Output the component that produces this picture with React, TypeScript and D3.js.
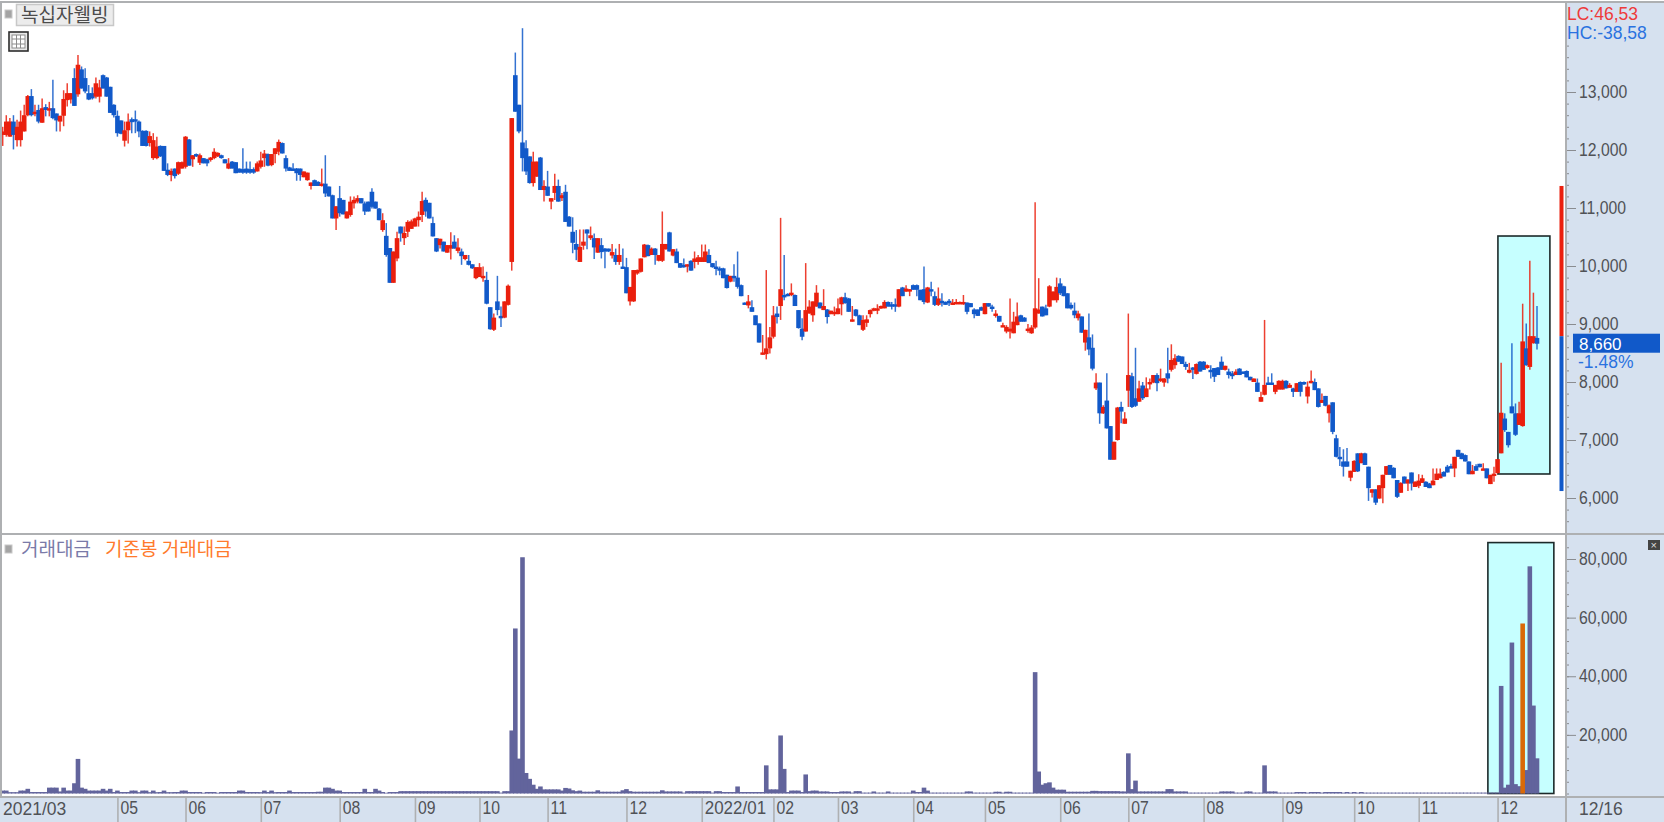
import React, { useEffect, useRef } from 'react';
import * as d3 from 'd3';

// rows are [open, high, low, close, trading value]
const candles2021a: number[][] = [
  [12260,12400,12070,12320,1000],[12260,12600,12230,12490,1000],[12230,12550,12230,12490,450],[12490,12600,12010,12260,450],
  [12170,12520,12060,12400,450],[12170,12680,12060,12490,1000],[12320,12780,12320,12600,1000],[12600,12950,12580,12930,1600],
  [12930,13050,12580,12600,500],[12630,12780,12580,12660,500],[12690,12780,12460,12490,500],[12470,12890,12470,12720,500],
  [12740,12790,12580,12690,500],[12690,12830,12580,12720,2000],[12720,13210,12530,12550,2000],[12630,12630,12320,12510,2000],
  [12490,12590,12320,12590,700],[12590,13030,12410,12880,2000],[12860,13150,12750,12980,1000],[12870,12980,12800,12980,1000],
  [13240,13410,12760,12760,3500],[12960,13640,12920,13470,11800],[13390,13440,13060,13060,2000],[13240,13410,12980,13010,1600],
  [12980,13120,12860,12870,1000],[12980,13080,12870,12890,1000],[12920,13250,12890,13150,1000],[12920,13210,12820,13080,1000],
  [13290,13300,13060,13060,1600],[13250,13260,12920,12920,1000],[13090,13090,12640,12640,1600],[12780,12790,12560,12600,500],
  [12590,12680,12230,12290,1000],[12510,12510,12270,12280,500],[12160,12490,12060,12340,500],[12340,12630,12110,12490,500],
  [12530,12560,12290,12480,1000],[12530,12680,12290,12490,1000],[12490,12510,12220,12320,450],[12330,12340,12070,12070,1000],
  [12330,12340,12060,12070,1000],[12120,12320,12060,12240,450],[11860,12290,11830,12170,1000],[11860,12230,11840,12060,450],
  [12070,12080,11880,11890,500],[12070,12070,11640,11640,1000],[11660,11770,11550,11570,450],[11570,11680,11460,11640,450],
  [11680,11680,11510,11550,500],[11590,11800,11570,11790,500],[11680,11800,11680,11790,1000],[11710,12240,11680,12230,1000],
  [12180,12190,11730,11730,500],[11840,11910,11710,11910,500],[11930,11940,11880,11890,500],[11780,11940,11740,11910,500],
  [11860,11860,11770,11770,250],[11840,11850,11720,11770,500],[11830,11880,11800,11870,500],[11860,12030,11840,11970,500],
  [11890,11960,11880,11950,250],[11910,11920,11850,11860,500],[11840,11840,11770,11770,500],[11680,11860,11670,11770,500],
  [11800,11810,11680,11680,500],[11790,11790,11600,11600,500],[11680,11680,11610,11610,1000],[11670,12030,11590,11610,1000],
  [11680,11800,11590,11610,500],[11670,11800,11590,11610,500],[11670,11700,11590,11610,500],[11630,11800,11630,11770,500],
  [11710,11970,11680,11820,450],[11860,12000,11710,11940,1000],[11930,11940,11720,11730,500],[11740,11930,11720,11930,1000],
  [11930,12030,11770,12030,450],[11970,12180,11910,12140,500],[12120,12130,11940,11940,500],[11860,11910,11630,11680,500],
  [11700,11710,11640,11640,1000],[11680,11770,11640,11660,500],[11680,11690,11470,11600,500],[11680,11680,11470,11570,500],
  [11530,11630,11530,11630,500],[11480,11610,11470,11610,500],[11380,11440,11320,11440,500],[11480,11490,11380,11380,500],
  [11450,11460,11380,11380,600],[11410,11680,11370,11420,600],[11420,11910,11190,11250,2000],[11370,11370,11200,11200,2000],
  [11220,11230,10820,10820,1600],[10820,11030,10620,11030,1000],[11170,11380,10850,10910,1000],[11140,11140,10890,10890,500],
  [10820,10940,10820,10940,500],[10880,11200,10850,11110,500],[11080,11200,10990,11140,500],[11110,11220,11080,11170,500],
  [11170,11170,11080,11080,500],[11080,11110,10880,10940,1600],[11110,11110,10940,10940,500],[11280,11340,10990,11020,500],
  [11110,11110,10990,10990,1600],[10990,11000,10790,10790,1000],[10620,10910,10590,10790,500],[10520,10740,10160,10190,250],
  [10310,10310,9710,9710,500],[9710,10250,9710,10250,500],[10130,10590,10080,10480,500],[10680,10680,10420,10560,800],
  [10480,10680,10360,10570,800],[10590,10790,10500,10760,800],[10640,10800,10640,10770,800],[10680,10830,10680,10820,800],
  [10790,10940,10680,10850,800],
];

const candles2021b: number[][] = [
  [10880,11280,10760,11120,800],[11140,11180,10850,10940,800],[11090,11090,10820,10820,800],[10740,10850,10510,10510,800],
  [10480,10480,10240,10250,800],[10360,10470,10300,10470,800],[10420,10420,10250,10250,800],[10230,10360,10230,10360,800],
  [10300,10580,10110,10360,800],[10420,10530,10300,10300,800],[10260,10480,10220,10320,800],[10250,10300,10020,10170,800],
  [10120,10190,10100,10190,800],[10090,10190,10010,10020,800],[10030,10030,9950,9960,800],[9790,9980,9770,9980,800],
  [9810,10050,9810,9980,800],[9790,9990,9730,9830,800],[9760,9900,9340,9350,800],[9290,9290,8900,8910,800],
  [8900,9180,8880,9110,800],[9390,9830,9150,9240,800],[9140,9300,8950,9130,300],[9110,9390,9100,9390,800],
  [9330,9680,9320,9660,800],[10070,12550,9920,12550,21500],[13290,13680,12660,12660,56300],[12780,12780,12290,12320,11900],
  [12130,14100,11630,11860,80600],[12030,12170,11570,11630,7000],[11890,11890,11420,11430,5000],[11430,11970,11370,11800,3000],
  [11540,11800,11540,11800,1600],[11870,11880,11310,11310,2400],[11310,11480,11110,11380,1400],[11370,11640,11210,11210,1400],
  [11110,11170,10980,11170,1400],[11260,11590,11140,11380,1400],[11380,11490,11110,11110,1400],[11170,11260,11120,11220,1000],
  [11280,11400,10760,10760,1900],[10850,10860,10680,10680,1700],[10590,10840,10220,10400,1100],[10380,10620,10100,10280,800],
  [10070,10630,10070,10330,1000],[10350,10630,10280,10420,600],[10630,10630,10290,10560,600],[10480,10680,10450,10530,600],
  [10480,10560,10120,10320,600],[10230,10480,10230,10480,1100],[10360,10480,10130,10240,600],[10300,10310,9960,10250,600],
  [10300,10300,10240,10250,600],[10180,10380,10130,10240,600],[10190,10300,10020,10070,600],[10070,10380,10020,10190,600],
  [9990,10300,9950,9960,1100],[9980,10140,9530,9530,1500],[9390,9640,9320,9640,800],[9390,9930,9380,9930,600],
  [9870,9940,9850,9930,600],[9900,10130,9890,10130,600],[10150,10380,10150,10370,600],[10360,10370,10170,10170,600],
  [10190,10320,10190,10300,600],[10300,10310,10020,10190,600],[10090,10190,10080,10190,600],[10090,10940,10070,10380,1100],
  [10290,10380,10280,10380,700],[10580,10590,10250,10250,700],[10180,10290,10170,10290,700],[10250,10300,10050,10050,700],
  [10050,10050,9970,9970,700],[10020,10130,9970,9980,300],[10020,10030,9890,10030,800],[10090,10100,9920,9920,800],
  [10070,10250,9960,10130,800],[10070,10190,10020,10150,800],[10070,10370,10070,10150,800],[10070,10370,10070,10250,800],
  [10190,10290,10050,10050,800],[10050,10050,9970,9980,300],[9990,10090,9840,9960,800],[9960,9990,9840,9940,800],
  [9960,9970,9790,9790,500],[9850,9850,9610,9620,500],[9730,9830,9720,9830,500],[9830,10030,9730,9800,500],
  [9800,10250,9610,9640,2400],[9670,9680,9480,9480,500],
  [9370,9370,9340,9350,500],[9320,9500,9270,9390,500],[9290,9410,9210,9210,500],[9150,9150,8980,8980,500],
  [9010,9010,8680,8680,500],[8480,8810,8470,8510,500],[8480,9930,8390,8580,9600],[8580,8950,8490,8770,1400],
  [8780,9310,8750,9150,1400],[9180,9300,9010,9120,1400],[9310,10830,9070,9600,19800],[9500,10190,9410,9470,8400],
  [9520,9530,9480,9480,500],[9520,9700,9480,9540,1000],[9500,9510,9310,9310,1000],[9240,9240,8920,8930,1000],
  [8920,9100,8720,8780,500],[8870,10050,8870,9240,6500],[9180,9410,9180,9300,800],[9150,9390,9040,9390,1000],
  [9300,9670,9300,9540,1000],[9370,9370,9270,9270,700],[9240,9600,9240,9310,700],[9250,9260,9010,9120,700],
  [9170,9230,9170,9230,500],[9170,9300,9140,9210,500],[9170,9440,9170,9270,500],
];

const candles2022a: number[][] = [
  [9340,9470,9150,9460,700],[9460,9540,9350,9360,700],[9440,9450,9210,9210,700],[9040,9310,9040,9080,300],
  [9250,9260,9130,9140,800],[9150,9160,8980,8980,800],[8900,9150,8880,9070,300],
  [9020,9150,8950,9080,300],[9170,9250,9110,9240,300],[9230,9280,9220,9270,700],[9230,9340,9170,9270,300],
  [9270,9320,9260,9310,300],[9270,9410,9270,9380,300],[9380,9390,9300,9300,700],[9340,9380,9250,9310,300],
  [9340,9440,9210,9310,300],[9300,9600,9290,9600,300],[9630,9640,9480,9480,300],[9560,9670,9550,9610,300],
  [9560,9600,9480,9600,300],[9670,9680,9590,9590,1000],[9670,9680,9480,9590,500],[9590,9590,9410,9410,500],
  [9600,9990,9340,9380,2000],[9370,9640,9360,9630,1000],[9600,9730,9480,9560,300],[9480,9560,9310,9330,300],
  [9330,9630,9310,9440,300],[9400,9530,9300,9370,300],[9380,9390,9330,9330,300],[9400,9430,9310,9370,300],
  [9330,9430,9330,9370,300],[9340,9430,9340,9380,300],[9340,9390,9340,9380,300],[9360,9500,9330,9380,300],
  [9370,9370,9170,9210,700],[9360,9360,9290,9290,700],[9250,9270,9100,9170,300],[9250,9250,9140,9140,300],
  [9290,9300,9230,9230,300],[9170,9360,9170,9360,300],[9360,9360,9300,9300,300],[9300,9330,9210,9290,300],
  [9140,9240,9110,9180,600],[9140,9140,9040,9040,600],[8950,9020,8950,8980,300],[8870,8980,8840,8950,600],
  [8870,9440,8750,8920,600],[8840,9210,8840,9040,300],[8980,9370,8980,9130,300],[9150,9160,9040,9040,300],
  [9110,9120,9040,9040,300],[8880,9000,8850,8920,300],[8840,8980,8830,8940,300],[8940,11100,8920,9270,41400],
  [9180,9790,9180,9250,7500],[9300,9300,9130,9130,3000],[9270,9330,9150,9150,3500],[9300,9670,9290,9650,3800],
  [9410,9560,9410,9560,2000],[9410,9800,9370,9640,1300],[9700,9790,9500,9530,1300],[9650,9660,9480,9480,1300],
  [9530,9530,9270,9270,600],[9330,9370,9250,9270,600],[9230,9370,9100,9150,600],[9100,9230,9060,9180,600],
  [9130,9130,8850,8850,600],[8680,8900,8540,8900,600],[8770,9180,8460,8560,600],[8590,8820,8200,8230,900],
  [7890,8150,7860,7990,900],[7990,7990,7280,7460,800],[7460,7600,7450,7570,800],[7680,8150,7200,7200,800],
  [7240,7240,6660,6660,800],[6660,6970,6660,6970,800],[7000,7570,6990,7560,800],[7570,7660,7290,7490,700],
  [7280,7480,7280,7370,700],[7850,9180,7570,8120,13700],[8100,8160,7550,7570,1500],[7720,8590,7570,7590,4400],
  [7660,8020,7660,7890,700],[7940,8000,7690,7720,700],[7740,8080,7740,7890,700],[7980,8060,7870,8000,700],
  [7990,8120,7980,8120,700],[8120,8150,7840,7980,700],[8020,8230,8000,8060,700],[7990,8070,7920,8060,700],
  [8150,8590,7980,8060,1500],[8210,8650,8180,8380,1500],[8290,8480,8230,8410,700],[8450,8460,8350,8350,700],
  [8440,8440,8310,8310,700],[8310,8350,8210,8260,700],[8160,8330,8150,8210,300],[8250,8260,8050,8230,300],
  [8140,8320,8130,8310,300],[8350,8360,8180,8180,300],[8350,8360,8210,8210,300],[8240,8300,8230,8290,300],
  [8210,8290,8060,8190,300],[8240,8240,8000,8090,300],[8250,8260,8120,8120,300],[8350,8440,8210,8210,700],
  [8210,8280,8200,8280,700],[8180,8230,8060,8120,700],[8150,8190,8050,8100,700],[8120,8220,8120,8180,300],
  [8230,8240,8120,8120,300],[8180,8180,8150,8150,300],[8190,8200,8080,8080,700],[8090,8090,8030,8030,700],
  [8000,8060,8000,8060,300],[7990,8060,7830,7830,300],[7660,7830,7660,7740,300],
];

const candles2022b: number[][] = [
  [7780,9070,7770,7950,9600],[7990,8090,7950,7960,700],[7990,8150,7950,7960,700],[7830,7950,7790,7950,700],
  [7870,8030,7870,8020,300],[7870,8040,7870,8020,300],[8020,8030,7890,7890,300],[7900,7980,7900,7950,300],
  [7890,7900,7740,7830,300],[7830,7980,7830,7980,500],[8000,8010,7750,7830,500],
  [8000,8010,7950,7980,500],[7750,8010,7630,7920,300],[7980,8200,7980,8020,500],[8000,8060,7860,7860,500],
  [7890,7890,7560,7570,500],[7640,7800,7640,7690,300],[7760,7760,7580,7590,500],[7460,7610,7300,7600,500],
  [7650,7650,7100,7140,500],[7030,7090,6700,6710,500],[6710,6880,6550,6700,500],[6630,6840,6370,6540,300],
  [6630,6860,6540,6540,500],[6350,6470,6290,6470,300],[6450,6650,6450,6640,500],[6770,6770,6450,6460,300],
  [6600,6780,6600,6770,500],[6770,6780,6570,6570,300],[6540,6540,5950,6170,300],[6090,6150,6010,6150,300],
  [6150,6150,5880,5920,300],[5990,6220,5990,6220,300],[6170,6400,5910,6400,300],[6400,6550,6400,6550,300],
  [6570,6570,6400,6400,300],[6520,6530,6340,6340,300],[6310,6310,6000,6020,300],[6090,6270,6090,6260,300],
  [6370,6370,6250,6250,300],[6250,6320,6120,6320,300],[6440,6440,6130,6250,300],
  [6190,6290,6190,6280,300],[6210,6410,6170,6300,300],[6260,6400,6260,6340,300],[6280,6290,6190,6190,300],
  [6250,6260,6170,6170,300],[6220,6510,6220,6300,300],[6310,6510,6310,6420,300],[6340,6510,6340,6420,300],
  [6450,6460,6370,6370,300],[6540,6570,6440,6440,300],[6550,6590,6510,6510,300],[6510,6710,6360,6710,300],
  [6830,6830,6710,6710,300],[6770,6780,6670,6670,300],[6740,6750,6630,6630,300],[6630,6630,6410,6410,300],
  [6410,6570,6410,6470,300],[6550,6580,6470,6470,300],[6590,6590,6530,6530,300],[6480,6600,6480,6510,300],
  [6510,6510,6340,6340,300],[6240,6400,6240,6400,300],[6400,6540,6280,6420,300],[6430,6670,6420,6670,300],
  [6770,8330,6770,7470,36700],[7370,7460,7140,7170,2000],[7140,7140,6870,6910,3000],[7580,8670,7460,7460,51500],
  [7460,7630,7070,7090,3200],[7260,7660,7260,7460,2500],[7240,9350,7230,8700,2500],[8580,9010,8280,8290,8000],
  [8260,10090,8210,8790,77500],[8670,9540,8660,8790,30000],[8760,9310,8560,8660,12000],
];

const candles = [...candles2021a, ...candles2021b, ...candles2022a, ...candles2022b];

// months on the time axis, index = first candle of the month
const monthStarts = [32, 51, 72, 94, 115, 133, 152, 174, 195, 215, 233, 254, 274, 295, 314, 335, 357, 377, 395, 417];
const monthLabels = ['05', '06', '07', '08', '09', '10', '11', '12', '2022/01', '02', '03', '04', '05', '06', '07', '08', '09', '10', '11', '12'];

const priceLabels = [6000, 7000, 8000, 9000, 10000, 11000, 12000, 13000];
const valueLabels = [20000, 40000, 60000, 80000];

// 기준봉 (the reference candle), counted from the last candle
const baseCandleValues = [[candles.length - 5, 58000]];
// [first index, last index, top value, bottom value] of the highlighted windows
const priceWindow = [417.1, 431.6, 10517, 6414];
const valueWindow = [414.3, 432.7, 85600, 0];

const lcRange = [11380, 8790, 6120];
const lastPrice = 8660;

const RED = '#ea1f0d';
const BLUE = '#1159c9';
const PURPLE = '#62649c';
const GRAY = '#aeb0b2';
const PANEL = '#d6e1ef';
const NUM_FONT = '"Liberation Sans", Arial, sans-serif';
const KR_FONT = '"Noto Sans CJK KR", sans-serif';

export default function App() {
  const ref = useRef<SVGSVGElement>(null);

  useEffect(() => {
    const svg = d3.select(ref.current);
    svg.selectAll('*').remove();

    const x = d3.scaleLinear().domain([0, candles.length - 1]).range([2.7, 1537]);
    const yPrice = d3.scaleLinear().domain([6000, 13000]).range([498, 92]);
    const yValue = d3.scaleLinear().domain([0, 80000]).range([793.5, 559]);

    // background panels
    svg.append('rect').attr('width', 1664).attr('height', 822).attr('fill', '#fff');
    svg.append('rect').attr('x', 1566).attr('y', 2).attr('width', 98).attr('height', 795).attr('fill', PANEL);
    svg.append('rect').attr('x', 0).attr('y', 797).attr('width', 1664).attr('height', 25).attr('fill', PANEL);

    // highlighted windows
    const win = (w: number[], y: d3.ScaleLinear<number, number>) =>
      svg.append('rect')
        .attr('x', x(w[0]))
        .attr('y', y(w[2]))
        .attr('width', x(w[1]) - x(w[0]))
        .attr('height', y(w[3]) - y(w[2]))
        .attr('fill', '#c6ffff')
        .attr('stroke', '#1c2a2a')
        .attr('stroke-width', 1.6);
    win(priceWindow, yPrice);
    win(valueWindow, yValue);

    // candles
    const isUp = (d: number[]) => d[3] >= d[0];
    const g = svg.append('g');
    g.selectAll('line')
      .data(candles)
      .enter().append('line')
      .attr('x1', (d, i) => x(i))
      .attr('x2', (d, i) => x(i))
      .attr('y1', d => yPrice(d[1]))
      .attr('y2', d => yPrice(d[2]))
      .attr('stroke', d => isUp(d) ? RED : BLUE)
      .attr('stroke-opacity', 0.85)
      .attr('stroke-width', 1.5);
    g.selectAll('rect')
      .data(candles)
      .enter().append('rect')
      .attr('x', (d, i) => x(i) - 2.3)
      .attr('width', 4.6)
      .attr('y', d => yPrice(Math.max(d[0], d[3])))
      .attr('height', d => Math.max(2.4, Math.abs(yPrice(d[0]) - yPrice(d[3]))))
      .attr('fill', d => isUp(d) ? RED : BLUE);

    // low/high range bar next to the price axis
    const rangeX = 1559.5;
    svg.append('rect').attr('x', rangeX).attr('y', yPrice(lcRange[0])).attr('width', 4).attr('height', yPrice(lcRange[1]) - yPrice(lcRange[0])).attr('fill', RED);
    svg.append('rect').attr('x', rangeX).attr('y', yPrice(lcRange[1])).attr('width', 4).attr('height', yPrice(lcRange[2]) - yPrice(lcRange[1])).attr('fill', BLUE);

    // trading value bars
    svg.append('g').selectAll('rect')
      .data(candles)
      .enter().append('rect')
      .attr('x', (d, i) => x(i) - 2.3)
      .attr('width', 4.6)
      .attr('y', d => yValue(d[4]))
      .attr('height', d => yValue(0) - yValue(d[4]))
      .attr('fill', PURPLE);
    svg.append('g').selectAll('rect')
      .data(baseCandleValues)
      .enter().append('rect')
      .attr('x', d => x(d[0]) - 2.3)
      .attr('width', 4.6)
      .attr('y', d => yValue(d[1]))
      .attr('height', d => yValue(0) - yValue(d[1]))
      .attr('fill', '#d96a08');

    // axes; the digits of the original are narrow and tall
    const narrow = (node: any, factor: number) => {
      node.setAttribute('lengthAdjust', 'spacingAndGlyphs');
      node.setAttribute('textLength', String(node.getComputedTextLength() * factor));
    };
    const styleAxis = (sel: any) => {
      sel.select('.domain').remove();
      sel.selectAll('line').attr('stroke', '#8a8c90');
      sel.selectAll('text')
        .attr('fill', '#505256')
        .style('font-family', NUM_FONT)
        .style('font-size', '17.5px')
        .each(function (this: any) {
          if (this.textContent) narrow(this, this.textContent.length > 6 ? 0.97 : 0.9);
        });
    };
    const priceMajor = d3.axisRight(yPrice).tickValues(priceLabels).tickSize(10).tickPadding(3).tickFormat(d3.format(','));
    const priceMinor = d3.axisRight(yPrice).tickValues(d3.range(5600, 13801, 200)).tickSize(3).tickFormat(() => '');
    const valueMajor = d3.axisRight(yValue).tickValues(valueLabels).tickSize(10).tickPadding(3).tickFormat(d3.format(','));
    const valueMinor = d3.axisRight(yValue).tickValues(d3.range(0, 84001, 4000)).tickSize(3).tickFormat(() => '');
    svg.append('g').attr('transform', 'translate(1566,0)').call(priceMinor).call(styleAxis);
    svg.append('g').attr('transform', 'translate(1566,0)').call(priceMajor).call(styleAxis);
    svg.append('g').attr('transform', 'translate(1566,0)').call(valueMinor).call(styleAxis);
    svg.append('g').attr('transform', 'translate(1566,0)').call(valueMajor).call(styleAxis);

    const timeAxis = d3.axisBottom(x)
      .tickValues(monthStarts)
      .tickSize(25)
      .tickFormat((d, i) => monthLabels[i]);
    svg.append('g').attr('transform', 'translate(0,797)').call(timeAxis).call(styleAxis)
      .call((a: any) => {
        a.selectAll('line').attr('stroke', GRAY).attr('stroke-width', 1.6);
        a.selectAll('text').attr('text-anchor', 'start').attr('x', 2.5).attr('y', 5).attr('dy', '0.71em');
      });

    // frame
    const frame = [[0, 2, 1664, 2], [0, 534, 1664, 534], [0, 797, 1664, 797], [1566, 2, 1566, 822], [1, 2, 1, 797]];
    svg.append('g').selectAll('line')
      .data(frame)
      .enter().append('line')
      .attr('x1', d => d[0]).attr('y1', d => d[1]).attr('x2', d => d[2]).attr('y2', d => d[3])
      .attr('stroke', GRAY)
      .attr('stroke-width', 2);

    const label = (px: number, py: number, t: string, color: string, font: string, size: number) =>
      svg.append('text').attr('x', px).attr('y', py).attr('fill', color)
        .style('font-family', font).style('font-size', size + 'px').text(t);

    label(3, 815, '2021/03', '#505256', NUM_FONT, 17.5);
    label(1579, 815, '12/16', '#505256', NUM_FONT, 17.5);

    // header of the price pane
    svg.append('rect').attr('x', 5).attr('y', 10).attr('width', 7).attr('height', 8).attr('fill', '#a4a4a4').attr('stroke', '#c8c8c8');
    svg.append('rect').attr('x', 16.5).attr('y', 4.5).attr('width', 97).attr('height', 21).attr('fill', '#ececec').attr('stroke', '#c8c8c8').attr('stroke-width', 1.5);
    label(21, 22, '녹십자웰빙', '#4c4c4c', KR_FONT, 19);

    // grid icon
    svg.append('rect').attr('x', 9).attr('y', 32).attr('width', 19).attr('height', 19).attr('fill', '#e8e8e8').attr('stroke', '#2c2c2c').attr('stroke-width', 1.6);
    svg.append('rect').attr('x', 12).attr('y', 35).attr('width', 13).attr('height', 13).attr('fill', '#fff').attr('stroke', '#8c8c8c');
    [16.5, 20.5].forEach(v => svg.append('line').attr('x1', v).attr('x2', v).attr('y1', 35).attr('y2', 48).attr('stroke', '#8c8c8c'));
    [39, 44].forEach(v => svg.append('line').attr('x1', 12).attr('x2', 25).attr('y1', v).attr('y2', v).attr('stroke', '#8c8c8c'));

    // header of the value pane
    svg.append('rect').attr('x', 5).attr('y', 545).attr('width', 7).attr('height', 8).attr('fill', '#a4a4a4').attr('stroke', '#c8c8c8');
    label(21, 556, '거래대금', '#7a7aa8', KR_FONT, 19);
    label(105, 556, '기준봉 거래대금', '#ff7a2c', KR_FONT, 19);

    // close button
    svg.append('rect').attr('x', 1648).attr('y', 540).attr('width', 12).attr('height', 10).attr('fill', '#444');
    label(1650.5, 549, '×', '#ddd', NUM_FONT, 11);

    // right column
    label(1567, 20, 'LC:46,53', '#ee3a3a', NUM_FONT, 17.5);
    label(1567, 39, 'HC:-38,58', '#2a72e0', NUM_FONT, 17.5);
    const labelY = yPrice(lastPrice);
    svg.append('rect').attr('x', 1573).attr('y', labelY - 10).attr('width', 87).attr('height', 19).attr('fill', '#1159c9');
    label(1579, labelY + 6, d3.format(',')(lastPrice), '#fff', NUM_FONT, 17);
    label(1578, labelY + 24, '-1.48%', '#2a72e0', NUM_FONT, 17.5);
  }, []);

  return (
    <svg ref={ref} width={1664} height={822} style={{ position: 'fixed', left: 0, top: 0, display: 'block' }} />
  );
}
